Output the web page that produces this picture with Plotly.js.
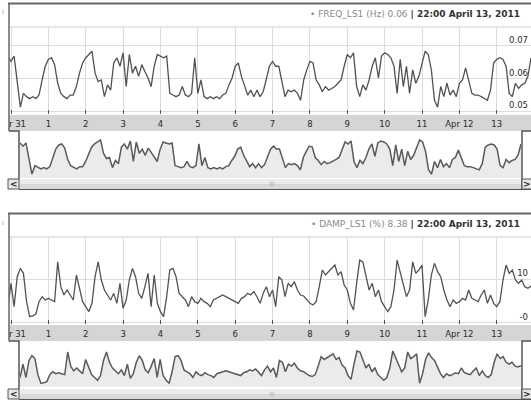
<!DOCTYPE html>
<html>
<head>
<meta charset="utf-8">
<script src="https://cdn.plot.ly/plotly-3.0.1.min.js"></script>
<style>
  html, body { margin: 0; padding: 0; background: #fff; }
  #chart { width: 531px; height: 402px; }
</style>
</head>
<body>
<div id="chart"></div>
<script>
// ---------------- data ----------------
const START = '2011-03-30T22:00:00';
const STEP_HOURS = 2;

const FREQ_LS1 = [
  0.0669, 0.0653, 0.0669, 0.0586, 0.0513, 0.0555, 0.0545, 0.0539, 0.0545, 0.0539,
  0.0550, 0.0596, 0.0638, 0.0659, 0.0664, 0.0643, 0.0586, 0.0555, 0.0545, 0.0539,
  0.0550, 0.0550, 0.0576, 0.0617, 0.0648, 0.0664, 0.0674, 0.0684, 0.0617, 0.0591,
  0.0596, 0.0545, 0.0581, 0.0565, 0.0648, 0.0664, 0.0638, 0.0679, 0.0576, 0.0674,
  0.0617, 0.0638, 0.0607, 0.0643, 0.0622, 0.0602, 0.0576, 0.0638, 0.0674, 0.0669,
  0.0664, 0.0669, 0.0555, 0.0550, 0.0545, 0.0550, 0.0576, 0.0550, 0.0545, 0.0555,
  0.0664, 0.0555, 0.0596, 0.0545, 0.0539, 0.0545, 0.0539, 0.0545, 0.0539, 0.0550,
  0.0555, 0.0581, 0.0602, 0.0638, 0.0648, 0.0607, 0.0576, 0.0550, 0.0565, 0.0545,
  0.0565, 0.0545, 0.0560, 0.0596, 0.0638, 0.0653, 0.0638, 0.0638, 0.0586, 0.0545,
  0.0565, 0.0560, 0.0565, 0.0555, 0.0534, 0.0596, 0.0627, 0.0653, 0.0648, 0.0596,
  0.0581, 0.0560, 0.0576, 0.0565, 0.0570, 0.0576, 0.0586, 0.0596, 0.0638, 0.0674,
  0.0664, 0.0679, 0.0576, 0.0545, 0.0581, 0.0565, 0.0596, 0.0638, 0.0664, 0.0602,
  0.0669, 0.0679, 0.0674, 0.0664, 0.0638, 0.0555, 0.0659, 0.0576, 0.0638, 0.0555,
  0.0627, 0.0586, 0.0607, 0.0648, 0.0684, 0.0674, 0.0627, 0.0534, 0.0513, 0.0576,
  0.0545, 0.0586, 0.0550, 0.0565, 0.0545, 0.0586, 0.0596, 0.0633, 0.0596, 0.0555,
  0.0550, 0.0550, 0.0545, 0.0539, 0.0534, 0.0565, 0.0648, 0.0659, 0.0664, 0.0659,
  0.0638, 0.0555, 0.0545, 0.0586, 0.0570, 0.0581, 0.0586, 0.0607, 0.0664
];

const DAMP_LS1 = [
  3.71, 9.02, 3.71, 10.53, 12.42, 11.29, 4.85, 1.44, 1.59, 2.05,
  4.85, 5.98, 5.23, 5.61, 5.23, 4.85, 13.9, 8.26, 6.36, 7.5,
  6.36, 5.23, 10.91, 7.5, 4.85, 3.71, 2.58, 4.47, 10.53, 13.9,
  9.77, 7.5, 6.36, 5.23, 6.74, 4.47, 9.02, 3.33, 5.23, 9.77,
  12.42, 10.53, 6.74, 5.61, 8.26, 11.29, 3.71, 10.91, 4.47, 2.58,
  1.44, 5.98, 12.05, 12.42, 10.53, 6.74, 5.98, 5.23, 3.71, 5.98,
  4.85, 4.47, 5.61, 4.85, 4.47, 3.71, 5.23, 5.61, 5.98, 6.36,
  5.98, 5.61, 5.23, 4.85, 4.47, 5.61, 5.98, 6.74, 6.36, 7.12,
  5.98, 4.47, 6.74, 8.26, 5.98, 7.5, 3.71, 10.53, 9.77, 5.98,
  9.02, 8.26, 9.39, 7.5, 6.36, 6.14, 5.23, 4.47, 4.09, 4.85,
  8.26, 12.05, 10.91, 11.67, 12.42, 13.18, 10.91, 11.67, 8.64, 7.5,
  4.47, 2.95, 9.02, 14.3, 13.9, 10.53, 7.5, 9.02, 5.98, 7.5,
  4.85, 3.71, 2.58, 3.71, 7.5, 14.3, 11.29, 8.26, 5.98, 7.5,
  13.9, 11.29, 12.05, 13.18, 1.44, 5.23, 10.91, 13.56, 11.67, 10.53,
  7.5, 5.23, 3.71, 5.23, 4.47, 4.85, 5.61, 5.23, 7.5, 5.61,
  5.23, 4.85, 6.36, 7.5, 4.47, 6.36, 4.47, 3.71, 4.85, 9.77,
  13.18, 11.29, 12.05, 9.77, 9.02, 9.77, 8.26, 7.88, 8.38
];

const DAY_TICKS = [
  '2011-03-31', '2011-04-01', '2011-04-02', '2011-04-03', '2011-04-04',
  '2011-04-05', '2011-04-06', '2011-04-07', '2011-04-08', '2011-04-09',
  '2011-04-10', '2011-04-11', '2011-04-12', '2011-04-13'
];
// first label is the visible (clipped) part of "Mar 31"
const DAY_LABELS = [
  'r 31', '1', '2', '3', '4', '5', '6', '7', '8', '9',
  '10', '11', 'Apr 12', '13'
];

const FREQ_TICKS = [0.05, 0.06, 0.07];
const FREQ_TICK_LABELS = ['0.05', '0.06', '0.07'];
const DAMP_TICKS = [0, 10];
const DAMP_TICK_LABELS = ['-0', '10'];

const HEADER_1 = ['\u2022 FREQ_LS1 (Hz) 0.06', '| 22:00 April 13, 2011'];
const HEADER_2 = ['\u2022 DAMP_LS1 (%) 8.38', '| 22:00 April 13, 2011'];

// time axis
function times(n) {
  const t0 = new Date(START + 'Z').getTime();
  const out = [];
  for (let i = 0; i < n; i++) {
    const d = new Date(t0 + i * STEP_HOURS * 3600000);
    out.push(d.toISOString().slice(0, 19).replace('T', ' '));
  }
  return out;
}
const T1 = times(FREQ_LS1.length);
const T2 = times(DAMP_LS1.length);

// ---------------- layout helpers ----------------
const W = 531, H = 402;
const X = px => px / W;
const Y = py => 1 - py / H;
const FONT = 'DejaVu Sans, Verdana, sans-serif';

const MAIN_RANGE = ['2011-03-30 22:43', '2011-04-13 22:00'];
const NAV_RANGE = ['2011-03-30 22:00', '2011-04-13 22:00'];

// the first (clipped) label is drawn as an annotation hugging the plot's left edge
const AXIS_LABELS = [''].concat(DAY_LABELS.slice(1));

function mainX(off, anchor) {
  return {
    domain: [X(9), 1], anchor: anchor, type: 'date', range: MAIN_RANGE,
    tickmode: 'array', tickvals: DAY_TICKS, ticktext: AXIS_LABELS,
    ticks: 'inside', ticklen: 4, tickwidth: 1, tickcolor: '#555',
    ticklabelstandoff: 3,
    showgrid: true, gridcolor: '#dcdcdc', gridwidth: 1,
    showline: false, zeroline: false,
    tickfont: { family: FONT, size: 8.5, color: '#2a2a2a' },
    fixedrange: true
  };
}
function mainY(top, bottom, range, tv, tt, anchor) {
  return {
    domain: [Y(bottom), Y(top)], anchor: anchor, range: range,
    side: 'right', tickmode: 'array', tickvals: tv, ticktext: tt,
    ticklabelposition: 'inside top', ticks: '',
    showgrid: true, gridcolor: '#dcdcdc', gridwidth: 1,
    showline: false, zeroline: false,
    tickfont: { family: FONT, size: 8.5, color: '#2a2a2a' },
    fixedrange: true
  };
}
function navX(anchor) {
  return {
    domain: [X(20), X(521)], anchor: anchor, type: 'date', range: NAV_RANGE,
    showticklabels: false, ticks: '', showgrid: false, zeroline: false, showline: false,
    fixedrange: true
  };
}
function navY(top, bottom, range, anchor) {
  return {
    domain: [Y(bottom), Y(top)], anchor: anchor, range: range,
    showticklabels: false, ticks: '', showgrid: false, zeroline: false, showline: false,
    fixedrange: true
  };
}

const data = [
  { x: T1, y: FREQ_LS1, xaxis: 'x', yaxis: 'y', type: 'scatter', mode: 'lines',
    line: { color: '#525252', width: 1.3 }, hoverinfo: 'skip' },
  { x: T1, y: FREQ_LS1, xaxis: 'x2', yaxis: 'y2', type: 'scatter', mode: 'lines',
    fill: 'tozeroy', fillcolor: '#ebebeb',
    line: { color: '#5a5a5a', width: 1.5 }, hoverinfo: 'skip' },
  { x: T2, y: DAMP_LS1, xaxis: 'x3', yaxis: 'y3', type: 'scatter', mode: 'lines',
    line: { color: '#525252', width: 1.3 }, hoverinfo: 'skip' },
  { x: T2, y: DAMP_LS1, xaxis: 'x4', yaxis: 'y4', type: 'scatter', mode: 'lines',
    fill: 'tozeroy', fillcolor: '#ebebeb',
    line: { color: '#5a5a5a', width: 1.5 }, hoverinfo: 'skip' }
];

const shapes = [];
const annotations = [];

function panelDecor(off, header) {
  const P = (o) => Object.assign({ xref: 'paper', yref: 'paper' }, o);
  // date band
  shapes.push(P({ type: 'rect', x0: X(9), x1: 1, y0: Y(131 + off), y1: Y(115 + off),
    fillcolor: '#d5d5d5', line: { width: 0 }, layer: 'below' }));
  // plot top edge
  shapes.push(P({ type: 'line', x0: X(9), x1: 1, y0: Y(27 + off), y1: Y(27 + off),
    line: { color: '#cfcfcf', width: 1 }, layer: 'above' }));
  // outer top border
  shapes.push(P({ type: 'line', x0: X(8), x1: 1, y0: Y(3.5 + off), y1: Y(3.5 + off),
    line: { color: '#666', width: 2 }, layer: 'above' }));
  // outer left border
  shapes.push(P({ type: 'line', x0: X(9), x1: X(9), y0: Y(3 + off), y1: Y(131 + off),
    line: { color: '#666', width: 1.5 }, layer: 'above' }));
  // navigator left mask edge
  shapes.push(P({ type: 'path',
    path: 'M ' + X(9) + ' ' + Y(131 + off) + ' L ' + X(19) + ' ' + Y(131 + off) +
          ' L ' + X(19) + ' ' + Y(189 + off),
    line: { color: '#555', width: 1.5 }, layer: 'above' }));
  // scrollbar track
  shapes.push(P({ type: 'rect', x0: X(19), x1: X(522), y0: Y(189 + off), y1: Y(183.5 + off),
    fillcolor: '#d9d9d9', line: { width: 0 }, layer: 'above' }));
  shapes.push(P({ type: 'rect', x0: X(19), x1: X(522), y0: Y(183.5 + off), y1: Y(179 + off),
    fillcolor: '#ececec', line: { width: 0 }, layer: 'above' }));
  shapes.push(P({ type: 'line', x0: X(19), x1: 1, y0: Y(189.5 + off), y1: Y(189.5 + off),
    line: { color: '#555', width: 1.2 }, layer: 'above' }));
  // navigator right handle box
  shapes.push(P({ type: 'rect', x0: X(522), x1: X(533), y0: Y(189 + off), y1: Y(131 + off),
    fillcolor: '#fff', line: { color: '#555', width: 1.5 }, layer: 'above' }));
  // scrollbar buttons
  shapes.push(P({ type: 'rect', x0: X(8), x1: X(19), y0: Y(189 + off), y1: Y(179 + off),
    fillcolor: '#e6e6e6', line: { color: '#555', width: 1 }, layer: 'above' }));
  shapes.push(P({ type: 'rect', x0: X(522), x1: X(533), y0: Y(189 + off), y1: Y(179 + off),
    fillcolor: '#e6e6e6', line: { color: '#555', width: 1 }, layer: 'above' }));

  annotations.push(P({ x: X(13.5), y: Y(184 + off), text: '<b>&lt;</b>', showarrow: false,
    xanchor: 'center', yanchor: 'middle', font: { family: FONT, size: 9, color: '#222' } }));
  annotations.push(P({ x: X(527), y: Y(184 + off), text: '<b>&gt;</b>', showarrow: false,
    xanchor: 'center', yanchor: 'middle', font: { family: FONT, size: 9, color: '#222' } }));
  annotations.push(P({ x: X(272), y: Y(183 + off), text: 'III', showarrow: false,
    xanchor: 'center', yanchor: 'middle', font: { family: FONT, size: 6, color: '#aaa' } }));
  // first (clipped) date label at the plot's left edge
  annotations.push(P({ x: X(8), y: Y(123.5 + off), text: DAY_LABELS[0], showarrow: false,
    xanchor: 'left', yanchor: 'middle', borderpad: 0,
    font: { family: FONT, size: 8.5, color: '#2a2a2a' } }));
  // header
  annotations.push(P({ x: X(522), y: Y(14 + off),
    text: '<span style="color:#8a8a8a">' + header[0] + '</span> ' +
          '<b><span style="color:#333">' + header[1] + '</span></b>',
    showarrow: false, xanchor: 'right', yanchor: 'middle',
    font: { family: FONT, size: 9, color: '#333' } }));
  // small glyph at top-left corner
  annotations.push(P({ x: X(2.5), y: Y(12 + off), text: 'i', showarrow: false,
    xanchor: 'center', yanchor: 'middle', font: { family: FONT, size: 6, color: '#888' } }));
}
panelDecor(0, HEADER_1);
panelDecor(210, HEADER_2);

const layout = {
  width: W, height: H,
  margin: { l: 0, r: 0, t: 0, b: 0, pad: 0 },
  paper_bgcolor: '#fff', plot_bgcolor: '#fff',
  showlegend: false,
  xaxis: mainX(0, 'y'),
  yaxis: mainY(27, 114, [0.0492, 0.0758], FREQ_TICKS, FREQ_TICK_LABELS, 'x'),
  xaxis2: navX('y2'),
  yaxis2: navY(131, 178, [0.0493, 0.0729], 'x2'),
  xaxis3: mainX(210, 'y3'),
  yaxis3: mainY(237, 324, [-0.23, 19.55], DAMP_TICKS, DAMP_TICK_LABELS, 'x3'),
  xaxis4: navX('y4'),
  yaxis4: navY(341, 388, [-0.5, 18.3], 'x4'),
  shapes: shapes,
  annotations: annotations
};

Plotly.newPlot('chart', data, layout, { displayModeBar: false, staticPlot: true });
</script>
</body>
</html>
